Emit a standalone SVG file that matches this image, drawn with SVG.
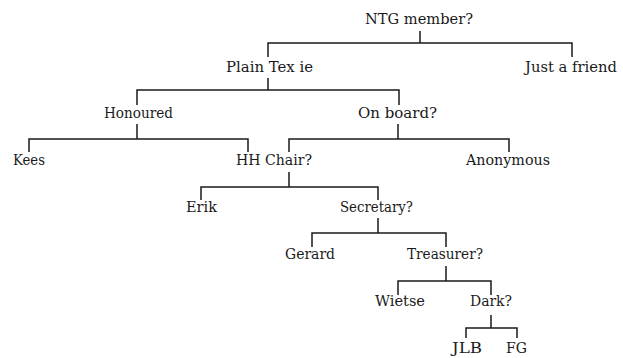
<svg xmlns="http://www.w3.org/2000/svg" width="623" height="358" viewBox="0 0 623 358">
  <style>
    .lbl { font-family: "DejaVu Serif", "Liberation Serif", serif; font-size: 14px; fill: #1a1a1a; }
    .edge { fill: none; stroke: #1a1a1a; stroke-width: 1.5; stroke-linecap: butt; stroke-linejoin: miter; }
  </style>
  <rect width="623" height="358" fill="#ffffff"/>

  <!-- tree connectors: stem down from parent, horizontal bar, drops to children -->
  <g id="connectors">
    <path class="edge" d="M420,31 V43 M268,57 V43 H572 V57"/>
    <path class="edge" d="M268,78 V90 M137,105 V90 H399 V105"/>
    <path class="edge" d="M137,124 V139 M29,152 V139 H248 V152"/>
    <path class="edge" d="M398,124 V139 M289,152 V139 H509 V152"/>
    <path class="edge" d="M289,172 V187 M201,200 V187 H378 V200"/>
    <path class="edge" d="M378,218 V233 M312,247 V233 H446 V247"/>
    <path class="edge" d="M446,266 V281 M398,295 V281 H491 V295"/>
    <path class="edge" d="M491,315 V328 M466,338 V328 H517 V338"/>
  </g>

  <g id="ntg-member"><text class="lbl" x="365" y="24" textLength="108" lengthAdjust="spacingAndGlyphs">NTG member?</text></g>
  <g id="plain-tex"><text class="lbl" x="226" y="72" textLength="87" lengthAdjust="spacingAndGlyphs">Plain Tex ie</text></g>
  <g id="just-a-friend"><text class="lbl" x="525" y="72" textLength="92" lengthAdjust="spacingAndGlyphs">Just a friend</text></g>
  <g id="honoured"><text class="lbl" x="104" y="118" textLength="69" lengthAdjust="spacingAndGlyphs">Honoured</text></g>
  <g id="on-board"><text class="lbl" x="358" y="118" textLength="79" lengthAdjust="spacingAndGlyphs">On board?</text></g>
  <g id="kees"><text class="lbl" x="13" y="165" textLength="32" lengthAdjust="spacingAndGlyphs">Kees</text></g>
  <g id="hh-chair"><text class="lbl" x="236" y="165" textLength="76" lengthAdjust="spacingAndGlyphs">HH Chair?</text></g>
  <g id="anonymous"><text class="lbl" x="466" y="165" textLength="84" lengthAdjust="spacingAndGlyphs">Anonymous</text></g>
  <g id="erik"><text class="lbl" x="186" y="212" textLength="31" lengthAdjust="spacingAndGlyphs">Erik</text></g>
  <g id="secretary"><text class="lbl" x="340" y="212" textLength="73" lengthAdjust="spacingAndGlyphs">Secretary?</text></g>
  <g id="gerard"><text class="lbl" x="285" y="259" textLength="50" lengthAdjust="spacingAndGlyphs">Gerard</text></g>
  <g id="treasurer"><text class="lbl" x="407" y="259" textLength="76" lengthAdjust="spacingAndGlyphs">Treasurer?</text></g>
  <g id="wietse"><text class="lbl" x="375" y="306" textLength="50" lengthAdjust="spacingAndGlyphs">Wietse</text></g>
  <g id="dark"><text class="lbl" x="470" y="306" textLength="42" lengthAdjust="spacingAndGlyphs">Dark?</text></g>
  <g id="jlb"><text class="lbl" x="452" y="353" textLength="30" lengthAdjust="spacingAndGlyphs">JLB</text></g>
  <g id="fg"><text class="lbl" x="506" y="353" textLength="21" lengthAdjust="spacingAndGlyphs">FG</text></g>
</svg>
